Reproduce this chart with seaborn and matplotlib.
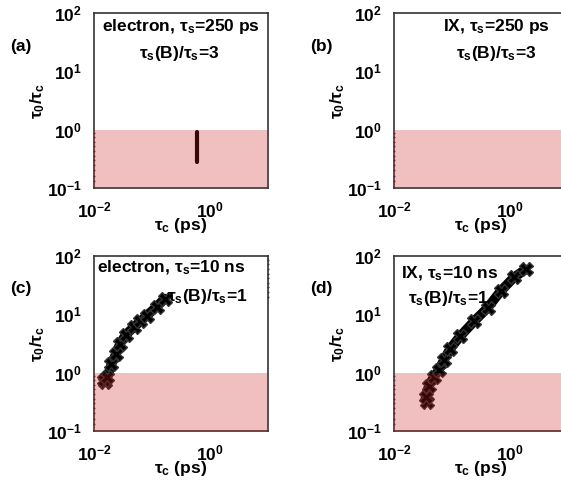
import matplotlib
matplotlib.use("Agg")
import matplotlib.pyplot as plt
import seaborn as sns

sns.set_style("white")
plt.rcParams["font.family"] = ["Liberation Sans", "DejaVu Sans"]
plt.rcParams["font.weight"] = "bold"
plt.rcParams["text.color"] = "black"
plt.rcParams["axes.labelcolor"] = "black"
plt.rcParams["xtick.color"] = "black"
plt.rcParams["ytick.color"] = "black"
plt.rcParams["mathtext.fontset"] = "custom"
plt.rcParams["mathtext.rm"] = "Liberation Sans:bold"
plt.rcParams["mathtext.it"] = "Liberation Sans:bold"
plt.rcParams["mathtext.bf"] = "Liberation Sans:bold"

# panel (a): short vertical trace
a_x = [0.59, 0.59, 0.59, 0.59, 0.59, 0.59]
a_y = [0.28, 0.36, 0.45, 0.57, 0.72, 0.90]

# panel (c): electron, tau_s = 10 ns
c_x = [0.0155, 0.0150, 0.0170, 0.020, 0.024, 0.028, 0.035, 0.048, 0.063, 0.081, 0.12, 0.166]
c_y = [0.68, 0.75, 0.83, 1.41, 2.1, 3.1, 4.4, 6.0, 7.6, 9.5, 13.5, 18.6]

# panel (d): IX, tau_s = 10 ns
d_x = [0.037, 0.035, 0.040, 0.048, 0.059, 0.072, 0.093, 0.138, 0.24, 0.41, 0.69, 1.17, 1.86]
d_y = [0.31, 0.38, 0.60, 0.83, 1.10, 1.62, 2.57, 4.2, 7.6, 12.9, 25, 43, 59]

# faint points sitting on the frame
edge_y = [0.13, 0.16, 0.2, 0.25, 0.3, 0.36, 0.43, 0.52, 0.62, 0.74, 0.88]
c_edge_y = [20, 24, 29, 35, 42, 50, 60, 72, 85]

titles = {
    "a": (r"electron, τ$_{\rm s}$=250 ps", r"τ$_{\rm s}$(B)/τ$_{\rm s}$=3"),
    "b": (r"IX, τ$_{\rm s}$=250 ps", r"τ$_{\rm s}$(B)/τ$_{\rm s}$=3"),
    "c": (r"electron, τ$_{\rm s}$=10 ns", r"τ$_{\rm s}$(B)/τ$_{\rm s}$=1"),
    "d": (r"IX, τ$_{\rm s}$=10 ns", r"τ$_{\rm s}$(B)/τ$_{\rm s}$=1"),
}

fig = plt.figure(figsize=(5.61, 4.87), dpi=100)
W, H = 561, 487
boxes = {"a": (94, 13), "b": (394, 13), "c": (94, 256), "d": (394, 256)}
axes = {}
for k, (x0, y0) in boxes.items():
    ax = fig.add_axes([x0 / W, 1 - (y0 + 175) / H, 174 / W, 175 / H])
    ax.set_xscale("log")
    ax.set_yscale("log")
    ax.set_xlim(1e-2, 1e1)
    ax.set_ylim(1e-1, 1e2)
    ax.set_xticks([1e-2, 1e0])
    ax.set_yticks([1e-1, 1e0, 1e1, 1e2])
    ax.minorticks_off()
    ax.tick_params(length=0, labelsize=12.5, pad=9)
    for lab in ax.get_xticklabels() + ax.get_yticklabels():
        lab.set_fontweight("bold")
    for s in ax.spines.values():
        s.set_color("#333333")
        s.set_linewidth(1.2)
    ax.set_xlabel(r"τ$_{\rm c}$ (ps)", fontsize=12.5, fontweight="bold", labelpad=-3)
    ax.set_ylabel(r"τ$_{\rm 0}$/τ$_{\rm c}$", fontsize=12.5, fontweight="bold", labelpad=0)
    ax.axhspan(1e-1, 1e0, color=(0.80, 0.10, 0.10), alpha=0.28, lw=0, zorder=5)
    sns.scatterplot(x=[0.0102] * len(edge_y), y=edge_y, ax=ax, color="#333333",
                    s=2, linewidth=0, zorder=3, clip_on=False)
    fig.text((x0 - 84) / W, 1 - (y0 + 33) / H, f"({k})", fontsize=12.5,
             fontweight="bold", va="center")
    axes[k] = ax

sns.lineplot(x=a_x, y=a_y, ax=axes["a"], color="black", lw=3, sort=False,
             estimator=None, zorder=4)

sns.lineplot(x=c_x, y=c_y, ax=axes["c"], color="black", lw=7, sort=False,
             estimator=None, marker="X", markersize=10, markeredgecolor="#333333",
             markeredgewidth=1, zorder=4)
sns.scatterplot(x=[9.9] * len(c_edge_y), y=c_edge_y, ax=axes["c"], color="#333333",
                s=2, linewidth=0, zorder=3, clip_on=False)

sns.lineplot(x=d_x, y=d_y, ax=axes["d"], color="black", lw=7, sort=False,
             estimator=None, marker="X", markersize=10, markeredgecolor="#333333",
             markeredgewidth=1, zorder=4)

tk = dict(fontsize=12.5, fontweight="bold", zorder=6)
axes["a"].text(0.5, 0.92, titles["a"][0], transform=axes["a"].transAxes, ha="center", va="center", **tk)
axes["a"].text(0.49, 0.77, titles["a"][1], transform=axes["a"].transAxes, ha="center", va="center", **tk)
axes["b"].text(0.586, 0.92, titles["b"][0], transform=axes["b"].transAxes, ha="center", va="center", **tk)
axes["b"].text(0.586, 0.77, titles["b"][1], transform=axes["b"].transAxes, ha="center", va="center", **tk)
axes["c"].text(0.02, 0.93, titles["c"][0], transform=axes["c"].transAxes, ha="left", va="center", **tk)
axes["c"].text(0.42, 0.77, titles["c"][1], transform=axes["c"].transAxes, ha="left", va="center", **tk)
axes["d"].text(0.04, 0.90, titles["d"][0], transform=axes["d"].transAxes, ha="left", va="center", **tk)
axes["d"].text(0.08, 0.76, titles["d"][1], transform=axes["d"].transAxes, ha="left", va="center", **tk)

fig.savefig("out.png", dpi=100)
